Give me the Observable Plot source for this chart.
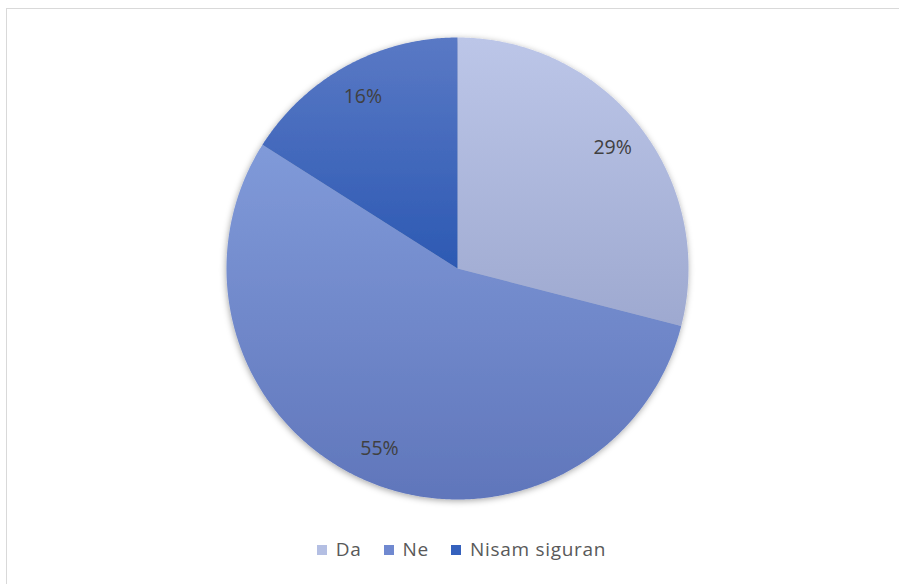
<!DOCTYPE html>
<html>
<head>
<meta charset="utf-8">
<script src="https://cdn.jsdelivr.net/npm/d3@7"></script>
<script src="https://cdn.jsdelivr.net/npm/@observablehq/plot@0.6"></script>
<style>
  html, body { margin: 0; padding: 0; background: #fff; width: 899px; height: 584px; overflow: hidden; }
  #frame { position: absolute; left: 6px; top: 8px; width: 1000px; height: 1000px; border: 1.5px solid #d9d9d9; box-sizing: border-box; }
  #chart { position: absolute; left: 0; top: 0; }
  #legend { position: absolute; left: 0; top: 536px; width: 923px; height: 26px; display: flex; justify-content: center; align-items: center; font-family: "Open Sans", sans-serif; font-size: 19px; letter-spacing: 0.7px; color: #595959; }
  #legend .item { display: flex; align-items: center; margin: 0 11px; }
  #legend .sw { width: 10px; height: 10px; margin-right: 9px; margin-top: 2px; }
</style>
</head>
<body>
<div id="frame"></div>
<div id="chart"></div>
<div id="legend"></div>
<script>
const categories = ["Da", "Ne", "Nisam siguran"];
const values = [29, 55, 16];
const labels = ["29%", "55%", "16%"];
const colorsTop = ["#bcc6e8", "#809ad9", "#5a79c5"];
const colorsBottom = ["#9ea9d0", "#6076bb", "#2c59b3"];
const legendColors = ["#b4bfe3", "#7089d0", "#3561bd"];

const total = d3.sum(values);
const slices = [];
let acc = 0;
values.forEach((v, i) => {
  const a0 = acc / total * 2 * Math.PI;
  acc += v;
  const a1 = acc / total * 2 * Math.PI;
  slices.push({cat: categories[i], i, a0, a1, label: labels[i]});
});

const pts = [];
for (const s of slices) {
  pts.push({cat: s.cat, i: s.i, x: 0, y: 0});
  const n = Math.max(2, Math.ceil((s.a1 - s.a0) / (Math.PI / 360)));
  for (let k = 0; k <= n; k++) {
    const a = s.a0 + (s.a1 - s.a0) * k / n;
    pts.push({cat: s.cat, i: s.i, x: Math.sin(a), y: Math.cos(a)});
  }
}
const labelPts = slices.map(s => {
  const m = (s.a0 + s.a1) / 2;
  return {label: s.label, x: 0.85 * Math.sin(m), y: 0.85 * Math.cos(m)};
});

const W = 899, H = 530;
const plot = Plot.plot({
  width: W, height: H,
  marginLeft: 226, marginRight: 211, marginTop: 37, marginBottom: 31,
  x: {domain: [-1, 1], axis: null},
  y: {domain: [-1, 1], axis: null},
  color: {type: "identity"},
  style: {background: "transparent"},
  marks: [
    Plot.line(pts, {x: "x", y: "y", z: "cat", fill: d => `url(#grad${d.i})`, stroke: "none", curve: "linear"}),
    Plot.text(labelPts, {x: "x", y: "y", text: "label", fill: "#404040", fontSize: 19.5, fontFamily: "'Open Sans', sans-serif"})
  ]
});

const yScale = plot.scale("y");
const svg = d3.select(plot);
const defs = svg.insert("defs", ":first-child");
const filt = defs.append("filter").attr("id", "shadow").attr("x", "-10%").attr("y", "-10%").attr("width", "120%").attr("height", "120%");
filt.append("feDropShadow").attr("dx", -0.5).attr("dy", 1.5).attr("stdDeviation", 3).attr("flood-color", "#000").attr("flood-opacity", 0.35);
categories.forEach((c, i) => {
  const ys = pts.filter(p => p.i === i).map(p => yScale.apply(p.y));
  const g = defs.append("linearGradient").attr("id", `grad${i}`)
    .attr("gradientUnits", "userSpaceOnUse").attr("x1", 0).attr("x2", 0)
    .attr("y1", d3.min(ys)).attr("y2", d3.max(ys));
  g.append("stop").attr("offset", "0%").attr("stop-color", colorsTop[i]);
  g.append("stop").attr("offset", "100%").attr("stop-color", colorsBottom[i]);
});
svg.select("g[aria-label='line']").attr("filter", "url(#shadow)");

document.getElementById("chart").appendChild(plot);

const leg = d3.select("#legend");
categories.forEach((c, i) => {
  const it = leg.append("div").attr("class", "item");
  it.append("div").attr("class", "sw").style("background", legendColors[i]);
  it.append("span").text(c);
});
</script>
</body>
</html>
